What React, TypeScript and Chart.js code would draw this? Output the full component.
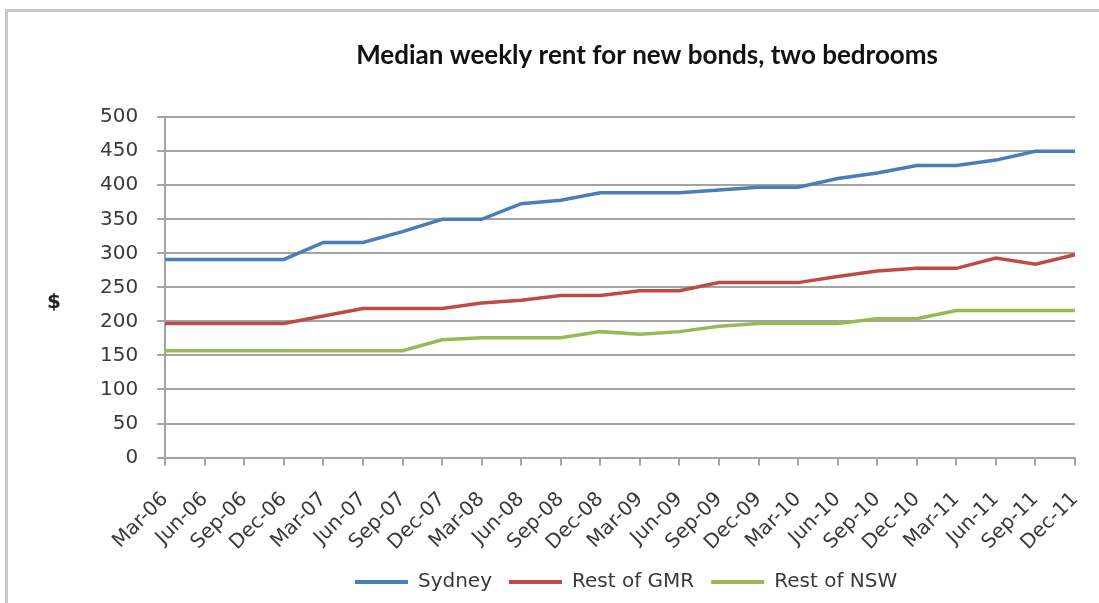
import { useEffect, useRef } from 'react';
import { Chart, registerables } from 'chart.js';

Chart.register(...registerables);

// Quarterly periods, Mar-06 to Dec-11
const quarters = [
  'Mar-06', 'Jun-06', 'Sep-06', 'Dec-06',
  'Mar-07', 'Jun-07', 'Sep-07', 'Dec-07',
  'Mar-08', 'Jun-08', 'Sep-08', 'Dec-08',
  'Mar-09', 'Jun-09', 'Sep-09', 'Dec-09',
  'Mar-10', 'Jun-10', 'Sep-10', 'Dec-10',
  'Mar-11', 'Jun-11', 'Sep-11', 'Dec-11',
];

// Median weekly rent ($) for new bonds, two-bedroom dwellings
const sydney = [291, 291, 291, 291, 316, 316, 332, 350, 350, 373, 378, 389, 389, 389, 393, 397, 397, 410, 418, 429, 429, 437, 450, 450];
const restOfGmr = [197, 197, 197, 197, 208, 219, 219, 219, 227, 231, 238, 238, 245, 245, 257, 257, 257, 266, 274, 278, 278, 293, 284, 298];
const restOfNsw = [157, 157, 157, 157, 157, 157, 157, 173, 176, 176, 176, 185, 181, 185, 193, 197, 197, 197, 204, 204, 216, 216, 216, 216];

const Y_MIN = 0;
const Y_MAX = 500;
const Y_STEP = 50;

const TICK_FONT = { family: 'DejaVu Sans', size: 20 };
const TEXT_COLOR = '#3a3a3a';
const GRID_COLOR = '#a3a3a3';
const X_LABEL_PAD = 22;

// Nudge the title and legend to sit where the chart frame centres them
const shiftHeaderAndLegend = {
  id: 'shiftHeaderAndLegend',
  afterLayout(chart: any) {
    const t = chart.titleBlock;
    if (t) {
      t.left += 27;
      t.right += 27;
    }
    const l = chart.legend;
    if (l) {
      l.left += 6;
      l.right += 6;
    }
  },
};

// Horizontal "$" axis caption
const dollarCaption = {
  id: 'dollarCaption',
  afterDraw(chart: any) {
    const ctx = chart.ctx;
    ctx.save();
    ctx.font = 'bold 20px "DejaVu Sans"';
    ctx.fillStyle = '#222222';
    ctx.textAlign = 'center';
    ctx.textBaseline = 'middle';
    ctx.fillText('$', 54, 303);
    ctx.restore();
  },
};

export default function App() {
  const canvasRef = useRef<HTMLCanvasElement | null>(null);

  useEffect(() => {
    if (!canvasRef.current) return;
    const series = [
      { label: 'Sydney', data: sydney, color: '#4a7ebb' },
      { label: 'Rest of GMR', data: restOfGmr, color: '#be4b48' },
      { label: 'Rest of NSW', data: restOfNsw, color: '#98b954' },
    ];
    const chart = new Chart(canvasRef.current, {
      type: 'line',
      data: {
        labels: quarters,
        datasets: series.map((s) => ({
          label: s.label,
          data: s.data,
          borderColor: s.color,
          backgroundColor: s.color,
          borderWidth: 3.5,
          pointRadius: 0,
          tension: 0,
          fill: false,
        })),
      },
      options: {
        animation: false,
        responsive: false,
        devicePixelRatio: 1,
        layout: { padding: { left: 81, right: 24, top: 0, bottom: 1 } },
        scales: {
          x: {
            type: 'category',
            offset: false,
            afterFit: (scale: any) => {
              scale.height -= X_LABEL_PAD;
              scale.paddingRight = 0;
            },
            grid: {
              display: true,
              drawOnChartArea: false,
              drawTicks: true,
              tickLength: 8,
              color: GRID_COLOR,
              lineWidth: 2,
            },
            border: { display: true, color: GRID_COLOR, width: 2 },
            ticks: {
              autoSkip: false,
              maxRotation: 45,
              minRotation: 45,
              padding: X_LABEL_PAD,
              font: TICK_FONT,
              color: TEXT_COLOR,
            },
          },
          y: {
            min: Y_MIN,
            max: Y_MAX,
            grid: {
              display: true,
              drawTicks: true,
              tickLength: 8,
              color: GRID_COLOR,
              lineWidth: 2,
            },
            border: { display: true, color: GRID_COLOR, width: 2 },
            ticks: {
              stepSize: Y_STEP,
              padding: 19,
              font: TICK_FONT,
              color: TEXT_COLOR,
            },
          },
        },
        plugins: {
          title: {
            display: true,
            text: 'Median weekly rent for new bonds, two bedrooms',
            fullSize: false,
            color: '#111111',
            font: { family: 'Lato', size: 26, weight: 'bold', lineHeight: 1.2 },
            padding: { top: 40, bottom: 46 },
          },
          legend: {
            display: true,
            position: 'bottom',
            fullSize: false,
            labels: {
              boxWidth: 53,
              boxHeight: 4,
              padding: 17,
              font: TICK_FONT,
              color: TEXT_COLOR,
              generateLabels: (c: any) =>
                Chart.defaults.plugins.legend.labels
                  .generateLabels(c)
                  .map((item: any) => ({ ...item, lineWidth: 0 })),
            },
          },
          tooltip: { enabled: false },
        },
      },
      plugins: [shiftHeaderAndLegend, dollarCaption],
    });
    return () => chart.destroy();
  }, []);

  return (
    <div
      style={{
        position: 'fixed',
        left: 0,
        top: 0,
        width: 1099,
        height: 603,
        background: '#ffffff',
        overflow: 'hidden',
      }}
    >
      <div
        style={{
          position: 'absolute',
          left: 5,
          top: 9,
          right: -10,
          bottom: -10,
          borderTop: '3px solid #c8c8c8',
          borderLeft: '3px solid #c8c8c8',
        }}
      />
      <canvas
        ref={canvasRef}
        width={1099}
        height={603}
        style={{ position: 'absolute', left: 0, top: 0 }}
      />
    </div>
  );
}
